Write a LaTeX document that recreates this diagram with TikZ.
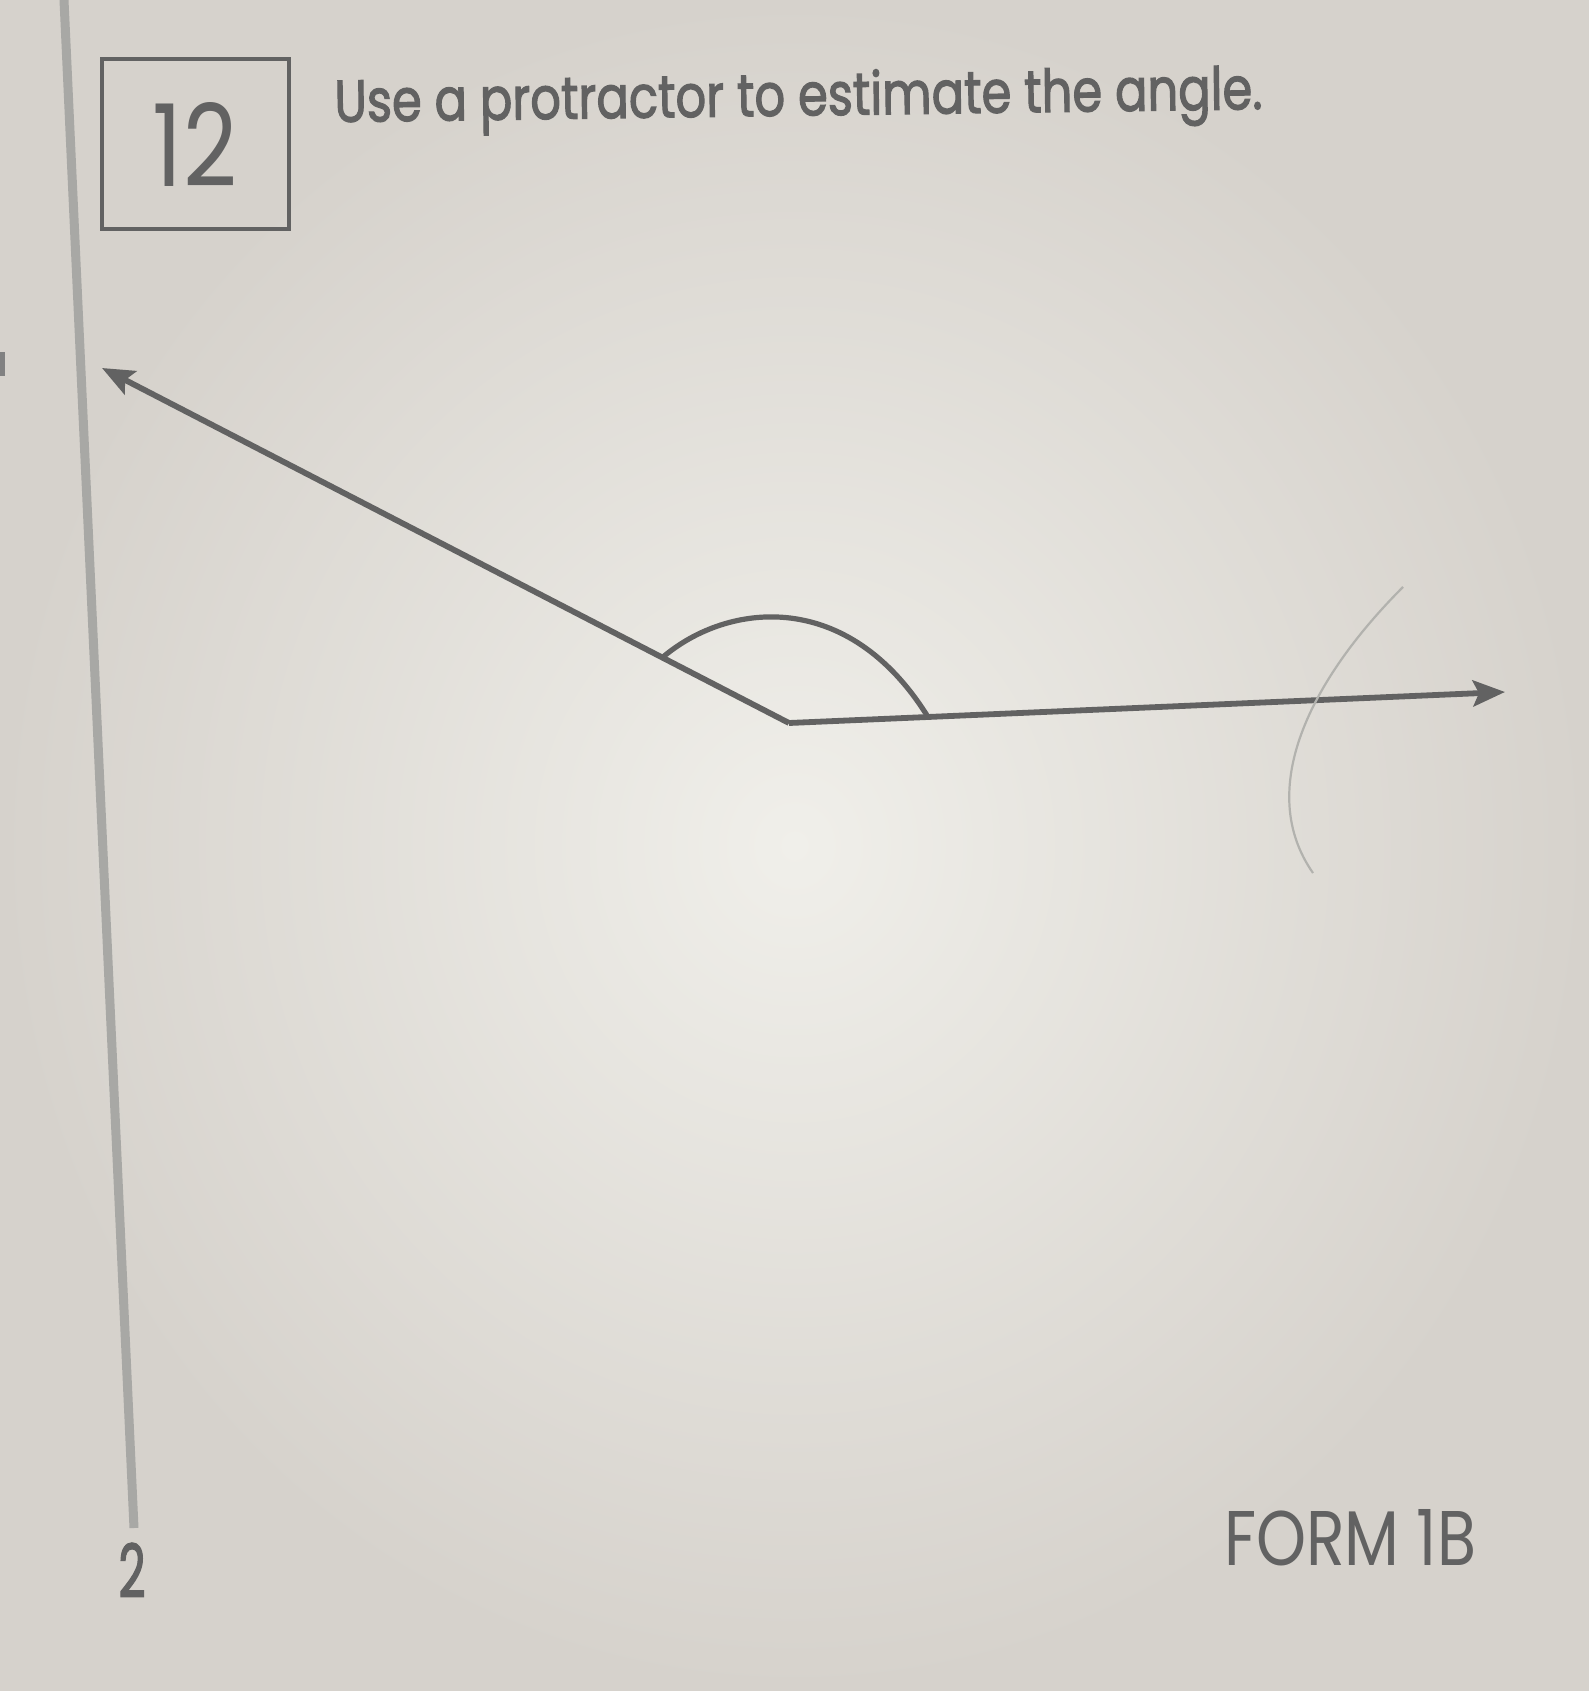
\documentclass[tikz,border=0pt]{standalone}
\usepackage{fontspec}
\setmainfont{Poppins}
\newfontfamily\heavyfont[FakeBold=2.2]{Poppins}
\usetikzlibrary{arrows.meta}

\definecolor{paper}{RGB}{214,210,204}
\definecolor{paperlight}{RGB}{240,239,234}
\definecolor{ink}{RGB}{98,98,98}
\definecolor{rulegray}{RGB}{168,168,165}
\definecolor{pencil}{RGB}{178,178,174}

\tikzset{every picture/.style={line width=0.75pt}}
\tikzset{
  txt/.style={inner sep=0pt, text=ink},
  numbox/.style={draw=ink, line width=2pt, minimum width=93.5pt, minimum height=85pt, inner sep=0pt, text=ink},
  ray/.style={draw=ink, line width=2.9pt, -{Stealth[length=16pt,width=13pt,inset=3pt]}},
  anglemark/.style={draw=ink, line width=2.6pt},
  pencilmark/.style={draw=pencil, line width=1.1pt}
}

\begin{document}
\begin{tikzpicture}[x=0.5pt,y=0.5pt,yscale=-1,xscale=1]
\useasboundingbox (0,0) rectangle (1589,1691);
%Background: photographed sheet
\shade[inner color=paperlight, outer color=paper] (0,0) rectangle (1589,1691);
\fill[ink!80] (0,352) rectangle (5,376);

%Margin line
\coordinate (mtop) at (64,0);
\coordinate (mbot) at (134,1528);
\draw[rulegray, line width=4.5pt] (mtop) -- (mbot);

%Question number and prompt
\node[numbox] (qbox) at (195,144) {\resizebox{42pt}{42pt}{12}};
\node[txt, anchor=base west, rotate=0.8] (prompt) at (334,122) {\resizebox{464pt}{22.5pt}{\heavyfont Use a protractor to estimate the angle.}};

%Angle
\coordinate (vertex) at (789,723);
\coordinate (leftend) at (102,368);
\coordinate (rightend) at (1505,692);
\draw[ray] (vertex) -- (leftend);
\draw[ray] (vertex) -- (rightend);

%Angle arc
\coordinate (arcstart) at (663,657);
\coordinate (arcend) at (928,717);
\draw[anglemark] (arcstart) .. controls (728,602) and (848,588) .. (arcend);

%Pencil arc
\coordinate (pstart) at (1403,587);
\coordinate (pend) at (1313,873);
\draw[pencilmark] (pstart) .. controls (1310,680) and (1255,790) .. (pend);

%Footer
\node[txt] (pagenum) at (132,1570) {\resizebox{13.5pt}{27pt}{\heavyfont 2}};
\node[txt] (form) at (1350,1538) {\resizebox{126pt}{28pt}{FORM 1B}};

\end{tikzpicture}
\end{document}
